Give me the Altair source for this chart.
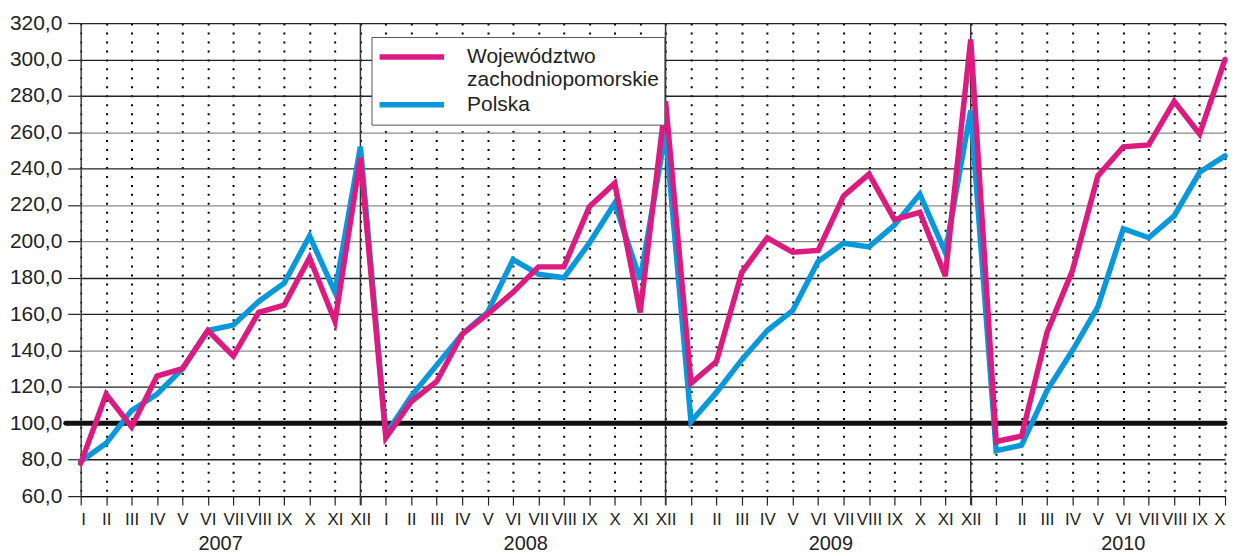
import altair as alt
import pandas as pd

months = ["I", "II", "III", "IV", "V", "VI", "VII", "VIII", "IX", "X", "XI", "XII"]
years = ["2007", "2008", "2009", "2010"]
year_centers = [5.5, 17.5, 29.5, 41]
separators = [11, 23, 35]

woj = [78, 116, 98, 126, 130, 151, 137, 161, 165, 191, 156, 246,
       92, 112, 123, 149, 160, 172, 186, 186, 219, 232, 161, 277,
       122, 134, 183, 202, 194, 195, 225, 237, 212, 216, 181, 311,
       90, 93, 150, 184, 236, 252, 253, 277, 259, 300]
pol = [79, 89, 107, 116, 130, 151, 154, 167, 177, 203, 172, 252,
       94, 115, 132, 149, 161, 190, 182, 180, 199, 221, 179, 260,
       101, 117, 135, 151, 162, 189, 199, 197, 209, 226, 194, 272,
       85, 88, 118, 140, 164, 207, 202, 214, 238, 247]

S_WOJ = "Województwo zachodniopomorskie"
S_POL = "Polska"

df_w = pd.DataFrame({"idx": list(range(len(woj))), "value": woj, "series": S_WOJ})
df_p = pd.DataFrame({"idx": list(range(len(pol))), "value": pol, "series": S_POL})
df_years = pd.DataFrame({"idx": year_centers, "year": years})
df_sep = pd.DataFrame({"idx": separators})
df_ref = pd.DataFrame({"value": [100]})

W, H = 1149, 475
FONT = "Liberation Sans"

month_expr = "['I','II','III','IV','V','VI','VII','VIII','IX','X','XI','XII'][datum.value % 12]"

xscale = alt.Scale(domain=[0, 45], nice=False, zero=False)
yscale = alt.Scale(domain=[60, 320], nice=False, zero=False)

color = alt.Color(
    "series:N",
    scale=alt.Scale(domain=[S_WOJ, S_POL], range=["#DD1A7F", "#0A98DC"]),
    legend=alt.Legend(
        title=None,
        orient="none",
        legendX=292,
        legendY=14,
        symbolType="stroke",
        symbolStrokeWidth=5.5,
        symbolSize=4200,
        clipHeight=30,
        labelFontSize=21,
        labelFont=FONT,
        labelColor="#222222",
        labelLimit=400,
        labelOffset=20,
        rowPadding=-8,
        padding=5,
        strokeColor="#555555",
        fillColor="white",
        labelExpr="datum.label == 'Polska' ? 'Polska' : ['Województwo', 'zachodniopomorskie']",
    ),
)

x_axis = alt.Axis(
    values=list(range(46)),
    labelExpr=month_expr,
    grid=True,
    gridDash=[2, 7],
    gridColor="#000000",
    gridWidth=2,
    domain=True,
    domainColor="#000000",
    domainWidth=1.2,
    ticks=True,
    tickSize=9,
    tickColor="#222222",
    tickWidth=1.2,
    labelFontSize=17,
    labelFont=FONT,
    labelColor="#222222",
    labelPadding=6,
    labelFlush=True,
    labelOverlap=False,
    labelBound=False,
    title=None,
)

y_axis = alt.Axis(
    values=list(range(60, 321, 20)),
    labelExpr="replace(format(datum.value, '.1f'), '.', ',')",
    grid=True,
    gridColor=alt.ConditionalAxisColor(
        condition={"test": "indexof([260, 220, 200, 140, 60], datum.value) >= 0", "value": "#8a8a8a"},
        value="#222222",
    ),
    gridWidth=1.3,
    domain=True,
    domainColor="#444444",
    domainWidth=1.5,
    ticks=True,
    tickSize=13,
    tickColor="#222222",
    tickWidth=1.2,
    labelFontSize=21,
    labelFont=FONT,
    labelColor="#222222",
    labelPadding=6,
    labelOverlap=False,
    labelFlush=False,
    title=None,
)

X = alt.X("idx:Q", scale=xscale, axis=x_axis)
Y = alt.Y("value:Q", scale=yscale, axis=y_axis)

seps = alt.Chart(df_sep).mark_rule(color="#333333", strokeWidth=1.5).encode(
    x=X,
    y=alt.value(0),
    y2=alt.value(H + 9),
)

ref = alt.Chart(df_ref).mark_rule(color="#111111", strokeWidth=5, strokeCap="round").encode(
    y=Y,
    x=alt.value(-15),
    x2=alt.value(W),
)

line_p = alt.Chart(df_p).mark_line(strokeWidth=5.5, strokeJoin="miter", strokeCap="round").encode(
    x=X, y=Y, color=color,
)

line_w = alt.Chart(df_w).mark_line(strokeWidth=5.5, strokeJoin="miter", strokeCap="round").encode(
    x=X, y=Y, color=color,
)

year_text = alt.Chart(df_years).mark_text(
    fontSize=20, font=FONT, color="#222222", baseline="alphabetic", align="center"
).encode(
    x=X,
    y=alt.value(H + 54),
    text="year:N",
)

chart = alt.layer(seps, ref, line_p, line_w, year_text).properties(
    width=W,
    height=H,
    autosize=alt.AutoSizeParams(type="none"),
    padding={"left": 73, "top": 14, "right": 4, "bottom": 56},
).configure_view(stroke=None).configure(background="white")

chart.save("out.html", embed_options={"renderer": "svg", "actions": False})
